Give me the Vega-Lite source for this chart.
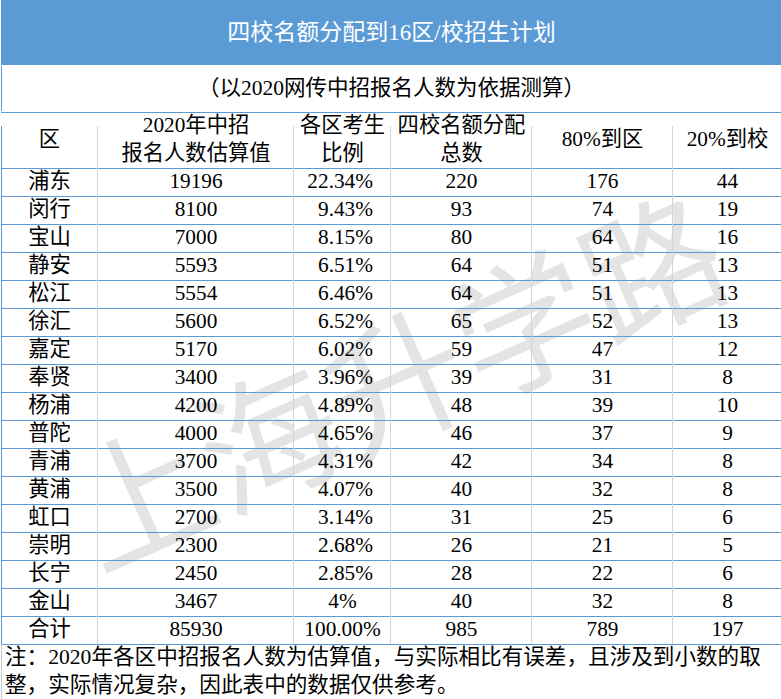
{
  "$schema": "https://vega.github.io/schema/vega-lite/v6.json",
  "padding": 0,
  "background": "white",
  "spacing": 0,
  "config": {
    "view": {"stroke": null},
    "text": {"font": "Liberation Serif, Noto Sans CJK SC", "fontSize": 21.3, "baseline": "middle", "fill": "#000"},
    "tick": {"opacity": 1},
    "concat": {"spacing": 0}
  },
  "datasets": {
    "title": [{"text": "四校名额分配到16区/校招生计划"}],
    "subtitle": [{"text": "（以2020网传中招报名人数为依据测算）"}],
    "watermark": [{"text": "上海升学路"}],
    "note": [
      {"line": "note1", "text": "注：2020年各区中招报名人数为估算值，与实际相比有误差，且涉及到小数的取"},
      {"line": "note2", "text": "整，实际情况复杂，因此表中的数据仅供参考。"}
    ],
    "heads": [
      {"col": "district", "label": "区"},
      {"col": "applicants", "label": "2020年中招\n报名人数估算值"},
      {"col": "share", "label": "各区考生\n比例"},
      {"col": "quota", "label": "四校名额分配\n总数"},
      {"col": "toDistrict", "label": "80%到区"},
      {"col": "toSchool", "label": "20%到校"}
    ],
    "rows": [
      {"district": "浦东", "applicants": 19196, "share": "22.34%", "quota": 220, "toDistrict": 176, "toSchool": 44},
      {"district": "闵行", "applicants": 8100, "share": "9.43%", "quota": 93, "toDistrict": 74, "toSchool": 19},
      {"district": "宝山", "applicants": 7000, "share": "8.15%", "quota": 80, "toDistrict": 64, "toSchool": 16},
      {"district": "静安", "applicants": 5593, "share": "6.51%", "quota": 64, "toDistrict": 51, "toSchool": 13},
      {"district": "松江", "applicants": 5554, "share": "6.46%", "quota": 64, "toDistrict": 51, "toSchool": 13},
      {"district": "徐汇", "applicants": 5600, "share": "6.52%", "quota": 65, "toDistrict": 52, "toSchool": 13},
      {"district": "嘉定", "applicants": 5170, "share": "6.02%", "quota": 59, "toDistrict": 47, "toSchool": 12},
      {"district": "奉贤", "applicants": 3400, "share": "3.96%", "quota": 39, "toDistrict": 31, "toSchool": 8},
      {"district": "杨浦", "applicants": 4200, "share": "4.89%", "quota": 48, "toDistrict": 39, "toSchool": 10},
      {"district": "普陀", "applicants": 4000, "share": "4.65%", "quota": 46, "toDistrict": 37, "toSchool": 9},
      {"district": "青浦", "applicants": 3700, "share": "4.31%", "quota": 42, "toDistrict": 34, "toSchool": 8},
      {"district": "黄浦", "applicants": 3500, "share": "4.07%", "quota": 40, "toDistrict": 32, "toSchool": 8},
      {"district": "虹口", "applicants": 2700, "share": "3.14%", "quota": 31, "toDistrict": 25, "toSchool": 6},
      {"district": "崇明", "applicants": 2300, "share": "2.68%", "quota": 26, "toDistrict": 21, "toSchool": 5},
      {"district": "长宁", "applicants": 2450, "share": "2.85%", "quota": 28, "toDistrict": 22, "toSchool": 6},
      {"district": "金山", "applicants": 3467, "share": "4%", "quota": 40, "toDistrict": 32, "toSchool": 8},
      {"district": "合计", "applicants": 85930, "share": "100.00%", "quota": 985, "toDistrict": 789, "toSchool": 197}
    ]
  },
  "vconcat": [
    {
      "width": 781, "height": 65,
      "view": {"fill": "#5b9bd5", "stroke": null},
      "data": {"name": "title"},
      "mark": {"type": "text", "fill": "#ffffff", "fontSize": 23},
      "encoding": {"text": {"field": "text", "type": "nominal"}}
    },
    {
      "width": 781, "height": 45,
      "data": {"name": "subtitle"},
      "layer": [
        {
          "mark": {"type": "rule", "color": "#5b9bd5", "xOffset": 0.5},
          "encoding": {"x": {"datum": 0, "type": "quantitative", "scale": {"domain": [0, 1]}, "axis": null}}
        },
        {
          "mark": {"type": "rule", "color": "#5b9bd5", "xOffset": -0.5},
          "encoding": {"x": {"datum": 1, "type": "quantitative"}}
        },
        {
          "mark": {"type": "text", "fontSize": 21.5},
          "encoding": {"text": {"field": "text", "type": "nominal"}}
        }
      ]
    },
    {
      "spacing": 0,
      "bounds": "flush",
      "hconcat": [
        {
          "width": 97, "height": 588,
          "layer": [
            {
              "data": {"name": "watermark"},
              "mark": {"type": "text", "font": "Noto Sans CJK SC", "fontWeight": 400, "fontSize": 140, "angle": -24, "dx": 327, "dy": 130, "fill": "#000000", "opacity": 0.1},
              "encoding": {"text": {"field": "text", "type": "nominal"}}
            },
            {
              "data": {"name": "rows"},
              "mark": {"type": "rule", "color": "#5b9bd5", "yOffset": 0.5},
              "encoding": {"y": {"field": "district", "type": "nominal", "bandPosition": 0, "axis": null,
                "scale": {"domain": ["h1","h2","浦东","闵行","宝山","静安","松江","徐汇","嘉定","奉贤","杨浦","普陀","青浦","黄浦","虹口","崇明","长宁","金山","合计","note1","note2"], "paddingInner": 0, "paddingOuter": 0}}}
            },
            {
              "data": {"name": "rows"},
              "transform": [{"filter": "datum.district === '合计'"}],
              "mark": {"type": "rule", "color": "#5b9bd5", "yOffset": 0.5},
              "encoding": {"y": {"field": "district", "type": "nominal", "bandPosition": 1}}
            },
            {
              "data": {"name": "heads"},
              "transform": [{"filter": "datum.col === 'district'"}],
              "mark": {"type": "rule", "color": "#5b9bd5", "yOffset": 0.5},
              "encoding": {"y": {"datum": "h1", "type": "nominal", "bandPosition": 0}}
            },
            {
              "data": {"name": "note"},
              "transform": [{"filter": "datum.line === 'note2'"}],
              "mark": {"type": "rule", "color": "#c8c8c8", "yOffset": -0.5},
              "encoding": {"y": {"field": "line", "type": "nominal", "bandPosition": 1}}
            },
            {
              "data": {"name": "rows"},
              "mark": {"type": "tick", "orient": "vertical", "color": "#d4d4d4", "size": 28, "thickness": 1, "xOffset": -0.5},
              "encoding": {"x": {"datum": 1, "type": "quantitative", "scale": {"domain": [0, 1]}, "axis": null}, "y": {"field": "district", "type": "nominal"}}
            },
            {
              "data": {"name": "rows"},
              "mark": {"type": "tick", "orient": "vertical", "color": "#5b9bd5", "size": 28, "thickness": 1, "xOffset": 0.5},
              "encoding": {"x": {"datum": 0, "type": "quantitative"}, "y": {"field": "district", "type": "nominal"}}
            },
            {
              "data": {"name": "heads"},
              "transform": [{"filter": "datum.col === 'district'"}],
              "mark": {"type": "tick", "orient": "vertical", "color": "#d4d4d4", "size": 56, "thickness": 1, "xOffset": -0.5},
              "encoding": {"x": {"datum": 1, "type": "quantitative"}, "y": {"datum": "h2", "type": "nominal", "bandPosition": 0}}
            },
            {
              "data": {"name": "heads"},
              "transform": [{"filter": "datum.col === 'district'"}],
              "mark": {"type": "tick", "orient": "vertical", "color": "#5b9bd5", "size": 56, "thickness": 1, "xOffset": 0.5},
              "encoding": {"x": {"datum": 0, "type": "quantitative"}, "y": {"datum": "h2", "type": "nominal", "bandPosition": 0}}
            },
            {
              "data": {"name": "note"},
              "mark": {"type": "tick", "orient": "vertical", "color": "#c8c8c8", "size": 28, "thickness": 1, "xOffset": 0.5},
              "encoding": {"x": {"datum": 0, "type": "quantitative"}, "y": {"field": "line", "type": "nominal"}}
            },
            {
              "data": {"name": "heads"},
              "transform": [{"filter": "datum.col === 'district'"}],
              "mark": {"type": "text"},
              "encoding": {"y": {"datum": "h2", "type": "nominal", "bandPosition": 0}, "text": {"field": "label", "type": "nominal"}}
            },
            {
              "data": {"name": "rows"},
              "mark": {"type": "text"},
              "encoding": {"y": {"field": "district", "type": "nominal"}, "text": {"field": "district", "type": "nominal"}}
            },
            {
              "data": {"name": "note"},
              "mark": {"type": "text", "align": "left", "dx": -44.5, "fontSize": 21.6},
              "encoding": {"y": {"field": "line", "type": "nominal"}, "text": {"field": "text", "type": "nominal"}}
            }
          ]
        },
        {
          "width": 196, "height": 588,
          "layer": [
            {
              "data": {"name": "rows"},
              "mark": {"type": "rule", "color": "#5b9bd5", "yOffset": 0.5},
              "encoding": {"y": {"field": "district", "type": "nominal", "bandPosition": 0, "axis": null,
                "scale": {"domain": ["h1","h2","浦东","闵行","宝山","静安","松江","徐汇","嘉定","奉贤","杨浦","普陀","青浦","黄浦","虹口","崇明","长宁","金山","合计","note1","note2"], "paddingInner": 0, "paddingOuter": 0}}}
            },
            {
              "data": {"name": "rows"},
              "transform": [{"filter": "datum.district === '合计'"}],
              "mark": {"type": "rule", "color": "#5b9bd5", "yOffset": 0.5},
              "encoding": {"y": {"field": "district", "type": "nominal", "bandPosition": 1}}
            },
            {
              "data": {"name": "heads"},
              "transform": [{"filter": "datum.col === 'applicants'"}],
              "mark": {"type": "rule", "color": "#5b9bd5", "yOffset": 0.5},
              "encoding": {"y": {"datum": "h1", "type": "nominal", "bandPosition": 0}}
            },
            {
              "data": {"name": "note"},
              "transform": [{"filter": "datum.line === 'note2'"}],
              "mark": {"type": "rule", "color": "#c8c8c8", "yOffset": -0.5},
              "encoding": {"y": {"field": "line", "type": "nominal", "bandPosition": 1}}
            },
            {
              "data": {"name": "rows"},
              "mark": {"type": "tick", "orient": "vertical", "color": "#d4d4d4", "size": 28, "thickness": 1, "xOffset": -0.5},
              "encoding": {"x": {"datum": 1, "type": "quantitative", "scale": {"domain": [0, 1]}, "axis": null}, "y": {"field": "district", "type": "nominal"}}
            },
            {
              "data": {"name": "heads"},
              "transform": [{"filter": "datum.col === 'applicants'"}],
              "mark": {"type": "tick", "orient": "vertical", "color": "#d4d4d4", "size": 56, "thickness": 1, "xOffset": -0.5},
              "encoding": {"x": {"datum": 1, "type": "quantitative"}, "y": {"datum": "h2", "type": "nominal", "bandPosition": 0}}
            },
            {
              "data": {"name": "heads"},
              "transform": [{"filter": "datum.col === 'applicants'"}],
              "mark": {"type": "text", "lineBreak": "\n", "lineHeight": 28},
              "encoding": {"y": {"datum": "h1", "type": "nominal"}, "text": {"field": "label", "type": "nominal"}}
            },
            {
              "data": {"name": "rows"},
              "mark": {"type": "text"},
              "encoding": {"y": {"field": "district", "type": "nominal"}, "text": {"field": "applicants", "type": "nominal"}}
            }
          ]
        },
        {
          "width": 97, "height": 588,
          "layer": [
            {
              "data": {"name": "rows"},
              "mark": {"type": "rule", "color": "#5b9bd5", "yOffset": 0.5},
              "encoding": {"y": {"field": "district", "type": "nominal", "bandPosition": 0, "axis": null,
                "scale": {"domain": ["h1","h2","浦东","闵行","宝山","静安","松江","徐汇","嘉定","奉贤","杨浦","普陀","青浦","黄浦","虹口","崇明","长宁","金山","合计","note1","note2"], "paddingInner": 0, "paddingOuter": 0}}}
            },
            {
              "data": {"name": "rows"},
              "transform": [{"filter": "datum.district === '合计'"}],
              "mark": {"type": "rule", "color": "#5b9bd5", "yOffset": 0.5},
              "encoding": {"y": {"field": "district", "type": "nominal", "bandPosition": 1}}
            },
            {
              "data": {"name": "heads"},
              "transform": [{"filter": "datum.col === 'share'"}],
              "mark": {"type": "rule", "color": "#5b9bd5", "yOffset": 0.5},
              "encoding": {"y": {"datum": "h1", "type": "nominal", "bandPosition": 0}}
            },
            {
              "data": {"name": "note"},
              "transform": [{"filter": "datum.line === 'note2'"}],
              "mark": {"type": "rule", "color": "#c8c8c8", "yOffset": -0.5},
              "encoding": {"y": {"field": "line", "type": "nominal", "bandPosition": 1}}
            },
            {
              "data": {"name": "rows"},
              "mark": {"type": "tick", "orient": "vertical", "color": "#d4d4d4", "size": 28, "thickness": 1, "xOffset": -0.5},
              "encoding": {"x": {"datum": 1, "type": "quantitative", "scale": {"domain": [0, 1]}, "axis": null}, "y": {"field": "district", "type": "nominal"}}
            },
            {
              "data": {"name": "heads"},
              "transform": [{"filter": "datum.col === 'share'"}],
              "mark": {"type": "tick", "orient": "vertical", "color": "#d4d4d4", "size": 56, "thickness": 1, "xOffset": -0.5},
              "encoding": {"x": {"datum": 1, "type": "quantitative"}, "y": {"datum": "h2", "type": "nominal", "bandPosition": 0}}
            },
            {
              "data": {"name": "heads"},
              "transform": [{"filter": "datum.col === 'share'"}],
              "mark": {"type": "text", "lineBreak": "\n", "lineHeight": 28},
              "encoding": {"y": {"datum": "h1", "type": "nominal"}, "text": {"field": "label", "type": "nominal"}}
            },
            {
              "data": {"name": "rows"},
              "transform": [{"filter": {"not": {"field": "share", "oneOf": ["4%", "100.00%"]}}}],
              "mark": {"type": "text", "align": "right", "dx": 30.5},
              "encoding": {"y": {"field": "district", "type": "nominal"}, "text": {"field": "share", "type": "nominal"}}
            },
            {
              "data": {"name": "rows"},
              "transform": [{"filter": {"field": "share", "oneOf": ["4%", "100.00%"]}}],
              "mark": {"type": "text"},
              "encoding": {"y": {"field": "district", "type": "nominal"}, "text": {"field": "share", "type": "nominal"}}
            }
          ]
        },
        {
          "width": 141, "height": 588,
          "layer": [
            {
              "data": {"name": "rows"},
              "mark": {"type": "rule", "color": "#5b9bd5", "yOffset": 0.5},
              "encoding": {"y": {"field": "district", "type": "nominal", "bandPosition": 0, "axis": null,
                "scale": {"domain": ["h1","h2","浦东","闵行","宝山","静安","松江","徐汇","嘉定","奉贤","杨浦","普陀","青浦","黄浦","虹口","崇明","长宁","金山","合计","note1","note2"], "paddingInner": 0, "paddingOuter": 0}}}
            },
            {
              "data": {"name": "rows"},
              "transform": [{"filter": "datum.district === '合计'"}],
              "mark": {"type": "rule", "color": "#5b9bd5", "yOffset": 0.5},
              "encoding": {"y": {"field": "district", "type": "nominal", "bandPosition": 1}}
            },
            {
              "data": {"name": "heads"},
              "transform": [{"filter": "datum.col === 'quota'"}],
              "mark": {"type": "rule", "color": "#5b9bd5", "yOffset": 0.5},
              "encoding": {"y": {"datum": "h1", "type": "nominal", "bandPosition": 0}}
            },
            {
              "data": {"name": "note"},
              "transform": [{"filter": "datum.line === 'note2'"}],
              "mark": {"type": "rule", "color": "#c8c8c8", "yOffset": -0.5},
              "encoding": {"y": {"field": "line", "type": "nominal", "bandPosition": 1}}
            },
            {
              "data": {"name": "rows"},
              "mark": {"type": "tick", "orient": "vertical", "color": "#d4d4d4", "size": 28, "thickness": 1, "xOffset": -0.5},
              "encoding": {"x": {"datum": 1, "type": "quantitative", "scale": {"domain": [0, 1]}, "axis": null}, "y": {"field": "district", "type": "nominal"}}
            },
            {
              "data": {"name": "heads"},
              "transform": [{"filter": "datum.col === 'quota'"}],
              "mark": {"type": "tick", "orient": "vertical", "color": "#d4d4d4", "size": 56, "thickness": 1, "xOffset": -0.5},
              "encoding": {"x": {"datum": 1, "type": "quantitative"}, "y": {"datum": "h2", "type": "nominal", "bandPosition": 0}}
            },
            {
              "data": {"name": "heads"},
              "transform": [{"filter": "datum.col === 'quota'"}],
              "mark": {"type": "text", "lineBreak": "\n", "lineHeight": 28},
              "encoding": {"y": {"datum": "h1", "type": "nominal"}, "text": {"field": "label", "type": "nominal"}}
            },
            {
              "data": {"name": "rows"},
              "mark": {"type": "text"},
              "encoding": {"y": {"field": "district", "type": "nominal"}, "text": {"field": "quota", "type": "nominal"}}
            }
          ]
        },
        {
          "width": 141, "height": 588,
          "layer": [
            {
              "data": {"name": "rows"},
              "mark": {"type": "rule", "color": "#5b9bd5", "yOffset": 0.5},
              "encoding": {"y": {"field": "district", "type": "nominal", "bandPosition": 0, "axis": null,
                "scale": {"domain": ["h1","h2","浦东","闵行","宝山","静安","松江","徐汇","嘉定","奉贤","杨浦","普陀","青浦","黄浦","虹口","崇明","长宁","金山","合计","note1","note2"], "paddingInner": 0, "paddingOuter": 0}}}
            },
            {
              "data": {"name": "rows"},
              "transform": [{"filter": "datum.district === '合计'"}],
              "mark": {"type": "rule", "color": "#5b9bd5", "yOffset": 0.5},
              "encoding": {"y": {"field": "district", "type": "nominal", "bandPosition": 1}}
            },
            {
              "data": {"name": "heads"},
              "transform": [{"filter": "datum.col === 'toDistrict'"}],
              "mark": {"type": "rule", "color": "#5b9bd5", "yOffset": 0.5},
              "encoding": {"y": {"datum": "h1", "type": "nominal", "bandPosition": 0}}
            },
            {
              "data": {"name": "note"},
              "transform": [{"filter": "datum.line === 'note2'"}],
              "mark": {"type": "rule", "color": "#c8c8c8", "yOffset": -0.5},
              "encoding": {"y": {"field": "line", "type": "nominal", "bandPosition": 1}}
            },
            {
              "data": {"name": "rows"},
              "mark": {"type": "tick", "orient": "vertical", "color": "#d4d4d4", "size": 28, "thickness": 1, "xOffset": -0.5},
              "encoding": {"x": {"datum": 1, "type": "quantitative", "scale": {"domain": [0, 1]}, "axis": null}, "y": {"field": "district", "type": "nominal"}}
            },
            {
              "data": {"name": "heads"},
              "transform": [{"filter": "datum.col === 'toDistrict'"}],
              "mark": {"type": "tick", "orient": "vertical", "color": "#d4d4d4", "size": 56, "thickness": 1, "xOffset": -0.5},
              "encoding": {"x": {"datum": 1, "type": "quantitative"}, "y": {"datum": "h2", "type": "nominal", "bandPosition": 0}}
            },
            {
              "data": {"name": "heads"},
              "transform": [{"filter": "datum.col === 'toDistrict'"}],
              "mark": {"type": "text"},
              "encoding": {"y": {"datum": "h2", "type": "nominal", "bandPosition": 0}, "text": {"field": "label", "type": "nominal"}}
            },
            {
              "data": {"name": "rows"},
              "mark": {"type": "text"},
              "encoding": {"y": {"field": "district", "type": "nominal"}, "text": {"field": "toDistrict", "type": "nominal"}}
            }
          ]
        },
        {
          "width": 109, "height": 588,
          "layer": [
            {
              "data": {"name": "rows"},
              "mark": {"type": "rule", "color": "#5b9bd5", "yOffset": 0.5},
              "encoding": {"y": {"field": "district", "type": "nominal", "bandPosition": 0, "axis": null,
                "scale": {"domain": ["h1","h2","浦东","闵行","宝山","静安","松江","徐汇","嘉定","奉贤","杨浦","普陀","青浦","黄浦","虹口","崇明","长宁","金山","合计","note1","note2"], "paddingInner": 0, "paddingOuter": 0}}}
            },
            {
              "data": {"name": "rows"},
              "transform": [{"filter": "datum.district === '合计'"}],
              "mark": {"type": "rule", "color": "#5b9bd5", "yOffset": 0.5},
              "encoding": {"y": {"field": "district", "type": "nominal", "bandPosition": 1}}
            },
            {
              "data": {"name": "heads"},
              "transform": [{"filter": "datum.col === 'toSchool'"}],
              "mark": {"type": "rule", "color": "#5b9bd5", "yOffset": 0.5},
              "encoding": {"y": {"datum": "h1", "type": "nominal", "bandPosition": 0}}
            },
            {
              "data": {"name": "note"},
              "transform": [{"filter": "datum.line === 'note2'"}],
              "mark": {"type": "rule", "color": "#c8c8c8", "yOffset": -0.5},
              "encoding": {"y": {"field": "line", "type": "nominal", "bandPosition": 1}}
            },
            {
              "data": {"name": "rows"},
              "mark": {"type": "tick", "orient": "vertical", "color": "#5b9bd5", "size": 28, "thickness": 1, "xOffset": -0.5},
              "encoding": {"x": {"datum": 1, "type": "quantitative", "scale": {"domain": [0, 1]}, "axis": null}, "y": {"field": "district", "type": "nominal"}}
            },
            {
              "data": {"name": "heads"},
              "transform": [{"filter": "datum.col === 'toSchool'"}],
              "mark": {"type": "tick", "orient": "vertical", "color": "#5b9bd5", "size": 56, "thickness": 1, "xOffset": -0.5},
              "encoding": {"x": {"datum": 1, "type": "quantitative"}, "y": {"datum": "h2", "type": "nominal", "bandPosition": 0}}
            },
            {
              "data": {"name": "note"},
              "mark": {"type": "tick", "orient": "vertical", "color": "#c8c8c8", "size": 28, "thickness": 1, "xOffset": -0.5},
              "encoding": {"x": {"datum": 1, "type": "quantitative"}, "y": {"field": "line", "type": "nominal"}}
            },
            {
              "data": {"name": "heads"},
              "transform": [{"filter": "datum.col === 'toSchool'"}],
              "mark": {"type": "text"},
              "encoding": {"y": {"datum": "h2", "type": "nominal", "bandPosition": 0}, "text": {"field": "label", "type": "nominal"}}
            },
            {
              "data": {"name": "rows"},
              "mark": {"type": "text"},
              "encoding": {"y": {"field": "district", "type": "nominal"}, "text": {"field": "toSchool", "type": "nominal"}}
            }
          ]
        }
      ]
    }
  ]
}
